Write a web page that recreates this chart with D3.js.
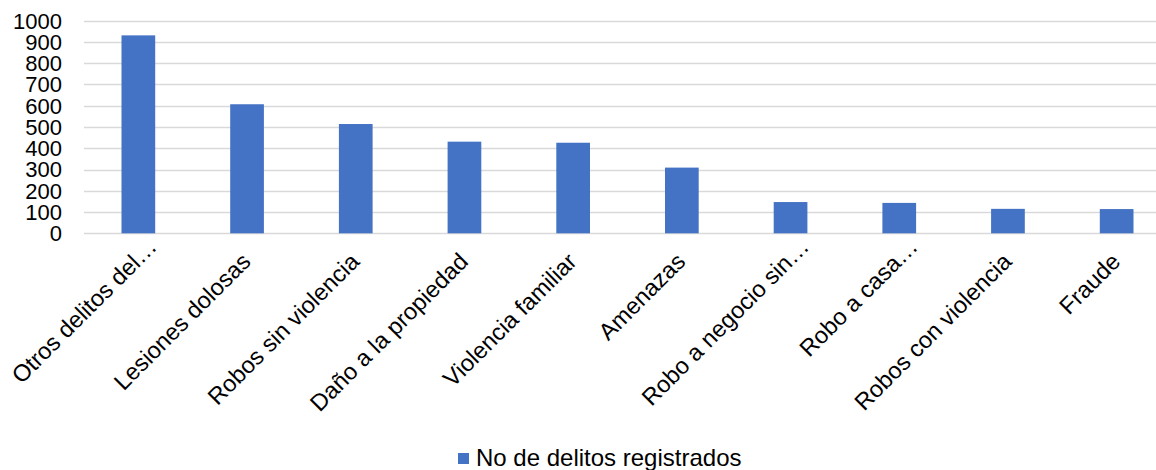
<!DOCTYPE html>
<html>
<head>
<meta charset="utf-8">
<script src="https://cdn.jsdelivr.net/npm/d3@7"></script>
<style>
  body { margin: 0; background: #fff; }
  svg { display: block; font-family: "Liberation Sans", Arial, sans-serif; }
</style>
</head>
<body>
<svg id="chart" width="1156" height="470"></svg>
<script>
  // categories and values
  const categories = [
    "Otros delitos del…",
    "Lesiones dolosas",
    "Robos sin violencia",
    "Daño a la propiedad",
    "Violencia familiar",
    "Amenazas",
    "Robo a negocio sin…",
    "Robo a casa…",
    "Robos con violencia",
    "Fraude"
  ];
  const delitos = [931, 607, 514, 431, 426, 309, 147, 143, 115, 114];
  const yTicks = [0, 100, 200, 300, 400, 500, 600, 700, 800, 900, 1000];
  const seriesName = "No de delitos registrados";

  const svg = d3.select("#chart");
  const barColor = "#4472C4";
  const gridColor = "#d9d9d9";

  const x = d3.scaleBand()
    .domain(categories)
    .range([84, 1171])
    .paddingInner(0.69)
    .paddingOuter(0.345);

  const y = d3.scaleLinear()
    .domain([0, 1000])
    .range([233.3, 20.7]);

  // gridlines
  svg.append("g")
    .selectAll("line")
    .data(yTicks)
    .enter()
    .append("line")
    .attr("x1", 84)
    .attr("x2", 1171)
    .attr("y1", d => Math.round(y(d)) + 0.5)
    .attr("y2", d => Math.round(y(d)) + 0.5)
    .attr("stroke", gridColor)
    .attr("stroke-width", 1.3);

  // y labels
  svg.append("g")
    .selectAll("text")
    .data(yTicks)
    .enter()
    .append("text")
    .attr("x", 62)
    .attr("y", d => y(d))
    .attr("dy", "0.36em")
    .attr("text-anchor", "end")
    .attr("font-size", 22)
    .attr("fill", "#000")
    .text(d => d);

  // bars
  svg.append("g")
    .selectAll("rect")
    .data(delitos)
    .enter()
    .append("rect")
    .attr("x", (d, i) => x(categories[i]))
    .attr("y", d => y(d))
    .attr("width", x.bandwidth())
    .attr("height", d => y(0) - y(d))
    .attr("fill", barColor);

  // rotated category labels (truncated ones sit a bit further out, as in the original)
  svg.append("g")
    .selectAll("text")
    .data(categories)
    .enter()
    .append("text")
    .attr("transform", d => {
      const cx = x(d) + x.bandwidth() / 2;
      return `translate(${cx + 5},${263}) rotate(-45)`;
    })
    .attr("x", d => d.endsWith("…") ? 21 : 0)
    .attr("text-anchor", "end")
    .attr("font-size", 23.5)
    .attr("fill", "#000")
    .text(d => d);

  // legend
  const legend = svg.append("g");
  legend.append("rect")
    .attr("x", 458)
    .attr("y", 453)
    .attr("width", 11)
    .attr("height", 11)
    .attr("fill", barColor);
  legend.append("text")
    .attr("x", 476)
    .attr("y", 466)
    .attr("font-size", 24)
    .attr("fill", "#000")
    .text(seriesName);
</script>
</body>
</html>
